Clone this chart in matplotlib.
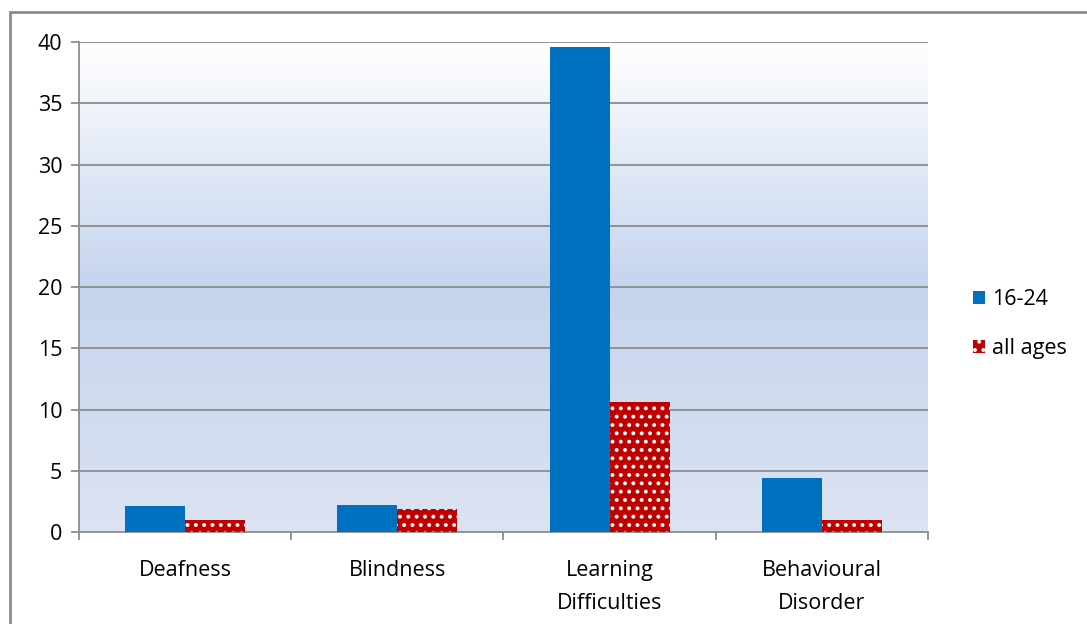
import numpy as np
import matplotlib.pyplot as plt
from matplotlib.patches import Patch, Rectangle
from matplotlib.colors import LinearSegmentedColormap

plt.rcParams['font.family'] = ['Open Sans', 'DejaVu Sans']
plt.rcParams['hatch.linewidth'] = 1.6

categories = ["Deafness", "Blindness", "Learning\nDifficulties", "Behavioural\nDisorder"]
young = [2.1, 2.2, 39.6, 4.4]
all_ages = [1.0, 1.9, 10.6, 1.0]
series_names = ["16-24", "all ages"]
yticks = [0, 5, 10, 15, 20, 25, 30, 35, 40]

blue = "#0070c0"
red = "#c00000"
grid_col = "#8c8c8c"
fs = 15.5

fig = plt.figure(figsize=(10.87, 6.24), dpi=100)
ax = fig.add_axes([0.0727, 0.1474, 0.781, 0.7853])

# outer frame (right and bottom edges fall outside the image)
fig.add_artist(Rectangle((10 / 1087, -0.05), 1.2, 1 - 12 / 624 + 0.05,
                         transform=fig.transFigure, fill=False,
                         edgecolor="#8c8c8c", linewidth=2))

# gradient background
grad = LinearSegmentedColormap.from_list(
    "bg", [(0.0, "#dce3f2"), (0.5, "#c5d4ee"), (1.0, "#ffffff")])
ax.imshow(np.linspace(0, 1, 256).reshape(-1, 1), aspect="auto", cmap=grad,
          extent=[-0.5, 3.5, 0, 40], origin="lower", zorder=0)

x = np.arange(len(categories))
w = 0.283
ax.bar(x - w / 2, young, w, color=blue, zorder=3, label=series_names[0])
ax.bar(x + w / 2, all_ages, w, color=red, edgecolor="white", linewidth=0,
       hatch="..", zorder=3, label=series_names[1])

ax.set_xlim(-0.5, 3.5)
ax.set_ylim(0, 40)
ax.set_yticks(yticks)
for t in yticks[1:]:
    ax.axhline(t, color=grid_col, lw=1.3, zorder=1)

ax.spines[['top', 'right']].set_visible(False)
ax.spines['left'].set_color(grid_col)
ax.spines['bottom'].set_color(grid_col)
ax.spines['left'].set_linewidth(1.3)
ax.spines['bottom'].set_linewidth(1.3)

ax.set_xticks(np.arange(-0.5, 4.0, 1.0))
ax.set_xticklabels([])
ax.set_xticks(x, minor=True)
ax.set_xticklabels(categories, minor=True, fontsize=fs, linespacing=1.75)
ax.tick_params(axis='x', which='minor', length=0, pad=20)
ax.tick_params(axis='x', which='major', length=6, color=grid_col, width=1.3)
ax.tick_params(axis='y', length=6, color=grid_col, width=1.3, labelsize=fs, pad=6)

handles = [Patch(facecolor=blue), Patch(facecolor=red, edgecolor="white", linewidth=0, hatch="..")]
ax.legend(handles, series_names, loc="center left", bbox_to_anchor=(0.877, 0.481),
          bbox_transform=fig.transFigure, frameon=False, fontsize=fs,
          handlelength=0.55, handleheight=0.55, handletextpad=0.35, labelspacing=1.3)

fig.savefig("out.png", dpi=100)
